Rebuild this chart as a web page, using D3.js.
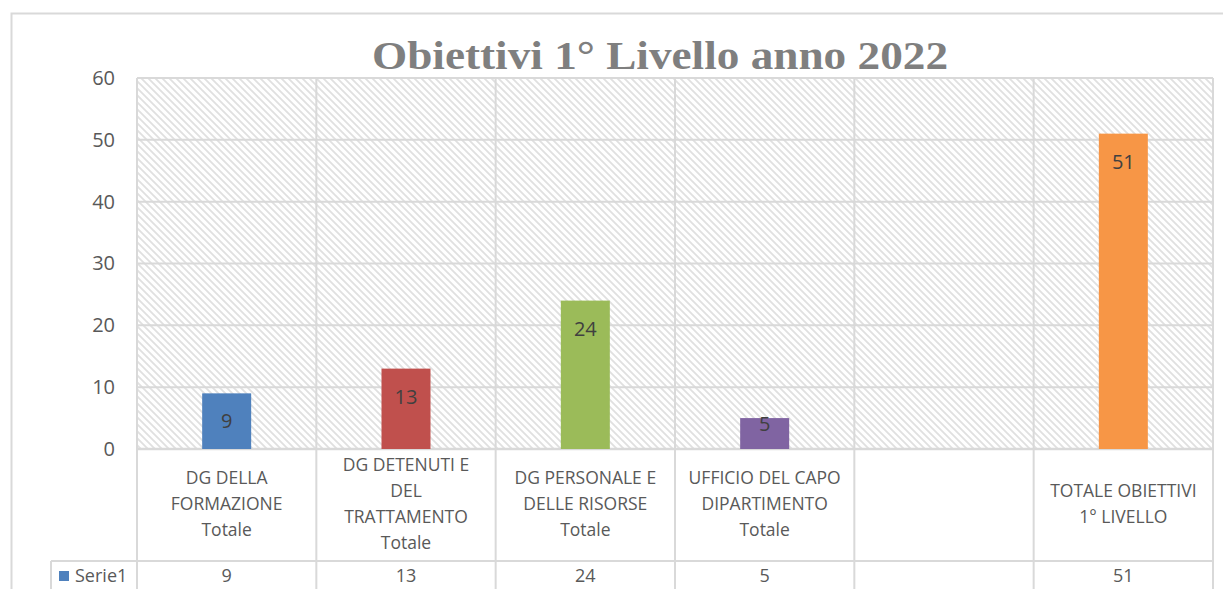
<!DOCTYPE html>
<html>
<head>
<meta charset="utf-8">
<script src="https://cdn.jsdelivr.net/npm/d3@7/dist/d3.min.js"></script>
<style>
  html, body { margin: 0; padding: 0; background: #ffffff; }
  svg { display: block; }
</style>
</head>
<body>
<svg id="chart" width="1223" height="589"></svg>
<script>
// ---- data ----
const title = "Obiettivi 1° Livello anno 2022";
const categories = [
  "DG DELLA\nFORMAZIONE\nTotale",
  "DG DETENUTI E\nDEL\nTRATTAMENTO\nTotale",
  "DG PERSONALE E\nDELLE RISORSE\nTotale",
  "UFFICIO DEL CAPO\nDIPARTIMENTO\nTotale",
  "",
  "TOTALE OBIETTIVI\n1° LIVELLO"
];
const values = [9, 13, 24, 5, null, 51];
const barColors = ["#4f81bd", "#c0504d", "#9bbb59", "#8064a2", "#4bacc6", "#f79646"];
const seriesName = "Serie1";
const yTicks = [0, 10, 20, 30, 40, 50, 60];

// ---- layout ----
const W = 1223, H = 589;
const plot = { left: 137, right: 1213, top: 78, bottom: 449 };
const tableRow1 = 561;
const gridColor = "#d9d9d9";
const textColor = "#595959";
const sans = "'Open Sans', 'Liberation Sans', sans-serif";

const svg = d3.select("#chart");

// hatch pattern
const defs = svg.append("defs");
const P = 7;
const pat = defs.append("pattern")
  .attr("id", "hatch").attr("patternUnits", "userSpaceOnUse")
  .attr("width", P).attr("height", P);
pat.append("rect").attr("width", P).attr("height", P).attr("fill", "#ffffff");
pat.append("path")
  .attr("d", `M-1,-1 L${P + 1},${P + 1} M-1,${P - 1} L1,${P + 1} M${P - 1},-1 L${P + 1},1`)
  .attr("stroke", "#e0e0e0").attr("stroke-width", 1.8);

// outer border
svg.append("rect")
  .attr("x", 11.5).attr("y", 13.5).attr("width", 1230).attr("height", 600)
  .attr("fill", "none").attr("stroke", gridColor).attr("stroke-width", 2);

const x = d3.scaleBand().domain(d3.range(categories.length))
  .range([plot.left, plot.right]).paddingInner(0).paddingOuter(0);
const y = d3.scaleLinear().domain([0, 60]).range([plot.bottom, plot.top]);

// plot area background
svg.append("rect")
  .attr("x", plot.left).attr("y", plot.top)
  .attr("width", plot.right - plot.left).attr("height", plot.bottom - plot.top)
  .attr("fill", "url(#hatch)");

// horizontal gridlines
svg.append("g").selectAll("line").data(yTicks).join("line")
  .attr("x1", plot.left).attr("x2", plot.right)
  .attr("y1", d => y(d)).attr("y2", d => y(d))
  .attr("stroke", gridColor).attr("stroke-width", 2);

// vertical gridlines (category boundaries), through data table
const bounds = d3.range(categories.length + 1).map(i =>
  i < categories.length ? x(i) : plot.right);
svg.append("g").selectAll("line").data(bounds).join("line")
  .attr("x1", d => d).attr("x2", d => d)
  .attr("y1", plot.top).attr("y2", H + 5)
  .attr("stroke", gridColor).attr("stroke-width", 2);

// data table horizontal lines
svg.append("line")
  .attr("x1", plot.left).attr("x2", plot.right)
  .attr("y1", plot.bottom).attr("y2", plot.bottom)
  .attr("stroke", gridColor).attr("stroke-width", 2.5);
svg.append("line")
  .attr("x1", 51).attr("x2", plot.right)
  .attr("y1", tableRow1).attr("y2", tableRow1)
  .attr("stroke", gridColor).attr("stroke-width", 2);
svg.append("line")
  .attr("x1", 51).attr("x2", 51)
  .attr("y1", tableRow1).attr("y2", H + 5)
  .attr("stroke", gridColor).attr("stroke-width", 2);

// y axis
const yAxis = d3.axisLeft(y).tickValues(yTicks).tickSize(0).tickPadding(22);
const gy = svg.append("g").attr("transform", `translate(${plot.left},0)`).call(yAxis);
gy.select(".domain").remove();
gy.selectAll("text")
  .attr("fill", textColor)
  .style("font-family", sans)
  .style("font-size", "20px");

// bars
const barW = 49;
const barData = values.map((v, i) => ({ v, i })).filter(d => d.v !== null);
svg.append("g").selectAll("rect").data(barData).join("rect")
  .attr("x", d => x(d.i) + x.bandwidth() / 2 - barW / 2)
  .attr("y", d => y(d.v))
  .attr("width", barW)
  .attr("height", d => y(0) - y(d.v))
  .attr("fill", d => barColors[d.i]);

// data labels
svg.append("g").selectAll("text").data(barData).join("text")
  .attr("x", d => x(d.i) + x.bandwidth() / 2)
  .attr("y", d => {
    const top = y(d.v), h = y(0) - top;
    return h >= 50 ? top + 28 : top + h / 2 - 10;
  })
  .attr("dy", "0.35em")
  .attr("text-anchor", "middle")
  .attr("fill", "#404040")
  .style("font-family", sans)
  .style("font-size", "20px")
  .text(d => d.v);

// category labels (data table header row)
const catG = svg.append("g");
categories.forEach((c, i) => {
  if (!c) return;
  const lines = c.split("\n");
  const lh = 26;
  const cy = (plot.bottom + tableRow1) / 2 - 1;
  const t = catG.append("text")
    .attr("text-anchor", "middle")
    .attr("fill", textColor)
    .style("font-family", sans)
    .style("font-size", "17.5px");
  lines.forEach((ln, k) => {
    t.append("tspan")
      .attr("x", x(i) + x.bandwidth() / 2)
      .attr("y", cy + (k - (lines.length - 1) / 2) * lh)
      .attr("dy", "0.35em")
      .text(ln);
  });
});

// values row
svg.append("g").selectAll("text").data(barData)
  .join("text")
  .attr("x", d => x(d.i) + x.bandwidth() / 2)
  .attr("y", 576).attr("dy", "0.35em")
  .attr("text-anchor", "middle")
  .attr("fill", textColor)
  .style("font-family", sans)
  .style("font-size", "18px")
  .text(d => d.v);

// legend key in table
svg.append("rect").attr("x", 59).attr("y", 571).attr("width", 10).attr("height", 10)
  .attr("fill", barColors[0]);
svg.append("text").attr("x", 75).attr("y", 576).attr("dy", "0.35em")
  .attr("fill", textColor)
  .style("font-family", sans)
  .style("font-size", "18px")
  .text(seriesName);

// title
svg.append("text")
  .attr("x", 660).attr("y", 69)
  .attr("text-anchor", "middle")
  .attr("fill", "#7f7f7f")
  .style("font-family", "'Liberation Serif', serif")
  .style("font-weight", "bold")
  .style("font-size", "40px")
  .attr("textLength", 576)
  .attr("lengthAdjust", "spacingAndGlyphs")
  .text(title);
</script>
</body>
</html>
